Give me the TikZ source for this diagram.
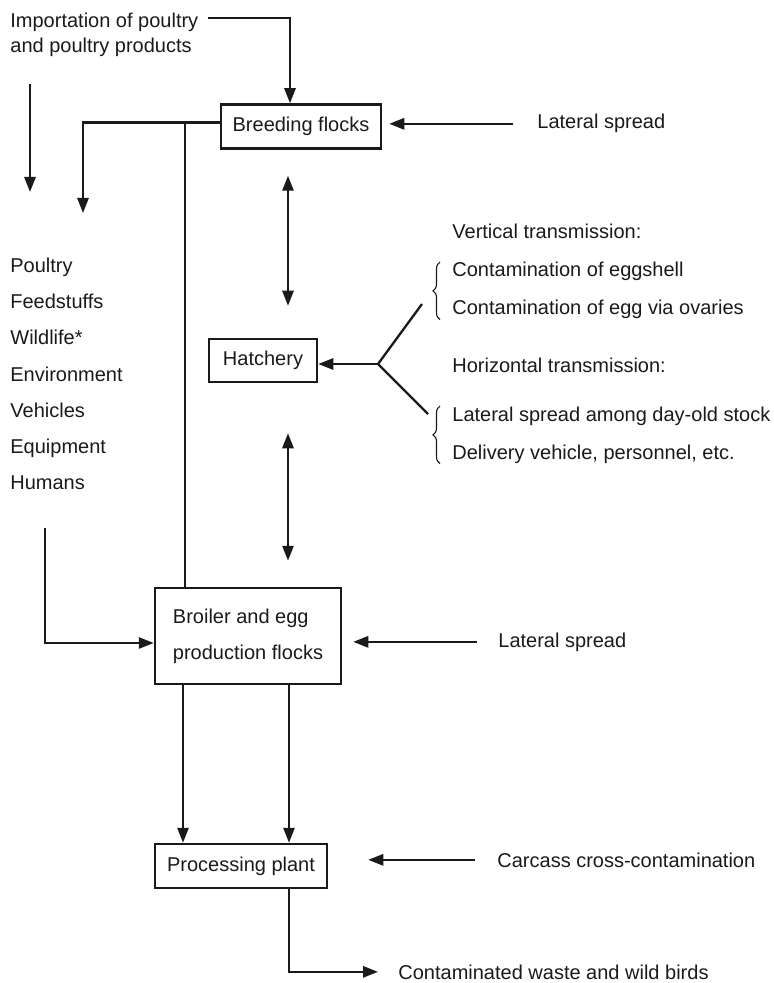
\documentclass[tikz,border=0pt]{standalone}
\usepackage{fontspec}
\setmainfont{Liberation Sans}
\usepackage{xcolor}
\usetikzlibrary{arrows.meta,positioning,calc,decorations.pathreplacing}
\definecolor{ink}{HTML}{1A1A1A}
\newcommand{\figfont}{\fontsize{10}{12.5}\selectfont}
\tikzset{
  stagebox/.style={draw=ink,line width=1.25pt,inner sep=0pt,
                   align=center,font=\figfont,text=ink},
  srclabel/.style={anchor=base west,inner sep=0pt,font=\figfont,text=ink},
  flowarr/.style={-{Triangle[length=7.5pt,width=5.6pt]},line width=1.15pt,color=ink},
  bothway/.style={{Triangle[length=7.5pt,width=5.6pt]}-{Triangle[length=7.5pt,width=5.6pt]},
                  line width=1.15pt,color=ink},
  feedline/.style={line width=1.15pt,color=ink},
  brace/.style={decorate,decoration={brace,amplitude=3.5pt},line width=0.55pt,color=ink}
}

\begin{document}
\begin{tikzpicture}[x=0.5pt,y=-0.5pt]
  \useasboundingbox (0,0) rectangle (774,983);

  \node[stagebox,minimum width=80pt,minimum height=22pt] (breed) at (301,126.5) {Breeding flocks};
  \node[stagebox,minimum width=54pt,minimum height=21.5pt] (hatch) at (263,360.5) {Hatchery};
  \node[stagebox,minimum width=93pt,minimum height=48pt,align=left] (broiler) at (248,636)
    {Broiler and egg\\[5.5pt]production flocks};
  \node[stagebox,minimum width=86pt,minimum height=22pt] (plant) at (241,866) {Processing plant};

  \node[srclabel,anchor=west,align=left] (import) at (10,35)
    {Importation of poultry\\and poultry products};
  \foreach \txt [count=\i] in {Poultry,Feedstuffs,Wildlife*,Environment,Vehicles,Equipment,Humans} {
    \node[srclabel] (src\i) at (10,{273+36*(\i-1)}) {\txt};
  }

  \node[srclabel] (lat1) at (537,129) {Lateral spread};
  \node[srclabel] (vert) at (452,239) {Vertical transmission:};
  \node[srclabel] (shell) at (452,277) {Contamination of eggshell};
  \node[srclabel] (ovary) at (452,315) {Contamination of egg via ovaries};
  \node[srclabel] (horiz) at (452,372) {Horizontal transmission:};
  \node[srclabel] (daystock) at (452,421) {Lateral spread among day-old stock};
  \node[srclabel] (deliver) at (452,459) {Delivery vehicle, personnel, etc.};
  \node[srclabel] (lat2) at (498,647) {Lateral spread};
  \node[srclabel] (carcass) at (497,867) {Carcass cross-contamination};
  \node[srclabel] (waste) at (398,979) {Contaminated waste and wild birds};

  \coordinate (impout) at (208,18);
  \coordinate (imptop) at (30,84);
  \coordinate (impend) at (30,192);
  \coordinate (fanout) at (83,213);
  \coordinate (tee) at (185,122.5);
  \coordinate (envout) at (45,528);
  \coordinate (fork) at (378,364);
  \coordinate (vtip) at (422,304);
  \coordinate (htip) at (428,414);

  \draw[flowarr] (impout) -| ([xshift=-5.5pt]breed.north);
  \draw[flowarr] (imptop) -- (impend);
  \draw[flowarr] ([yshift=2pt]breed.west) -| (fanout);
  \draw[feedline] (tee) -- (tee |- broiler.north);
  \draw[flowarr,shorten <=12pt,shorten >=3.5pt] (lat1.west) -- (breed.east |- lat1.west);

  \draw[bothway,shorten <=13pt,shorten >=16pt] ([xshift=-6.5pt]breed.south)
    -- ([xshift=-6.5pt]breed.south |- hatch.north);
  \draw[bothway,shorten <=25pt,shorten >=13pt] ([xshift=-6.5pt]breed.south |- hatch.south)
    -- ([xshift=-6.5pt]breed.south |- broiler.north);

  \draw[feedline] (vtip) -- (fork) -- (htip);
  \draw[flowarr] (fork) -- (hatch.east |- fork);
  \draw[brace] ([xshift=-6pt]ovary.south west) -- ([xshift=-6pt]shell.north west);
  \draw[brace] ([xshift=-6pt]deliver.south west) -- ([xshift=-6pt]daystock.north west);

  \draw[flowarr] (envout) |- ([yshift=-3.5pt]broiler.west);
  \draw[flowarr,shorten <=10.5pt,shorten >=5.5pt] (lat2.west) -- (broiler.east |- lat2.west);

  \draw[flowarr] ([xshift=-32.5pt]broiler.south) -- ([xshift=-32.5pt]broiler.south |- plant.north);
  \draw[flowarr] ([xshift=20.5pt]broiler.south) -- ([xshift=20.5pt]broiler.south |- plant.north);
  \draw[flowarr,shorten <=11pt,shorten >=20pt] (carcass.west) -- (plant.east |- carcass.west);
  \draw[flowarr,shorten >=10pt] ([xshift=24pt]plant.south) |- (waste.west);
\end{tikzpicture}
\end{document}
